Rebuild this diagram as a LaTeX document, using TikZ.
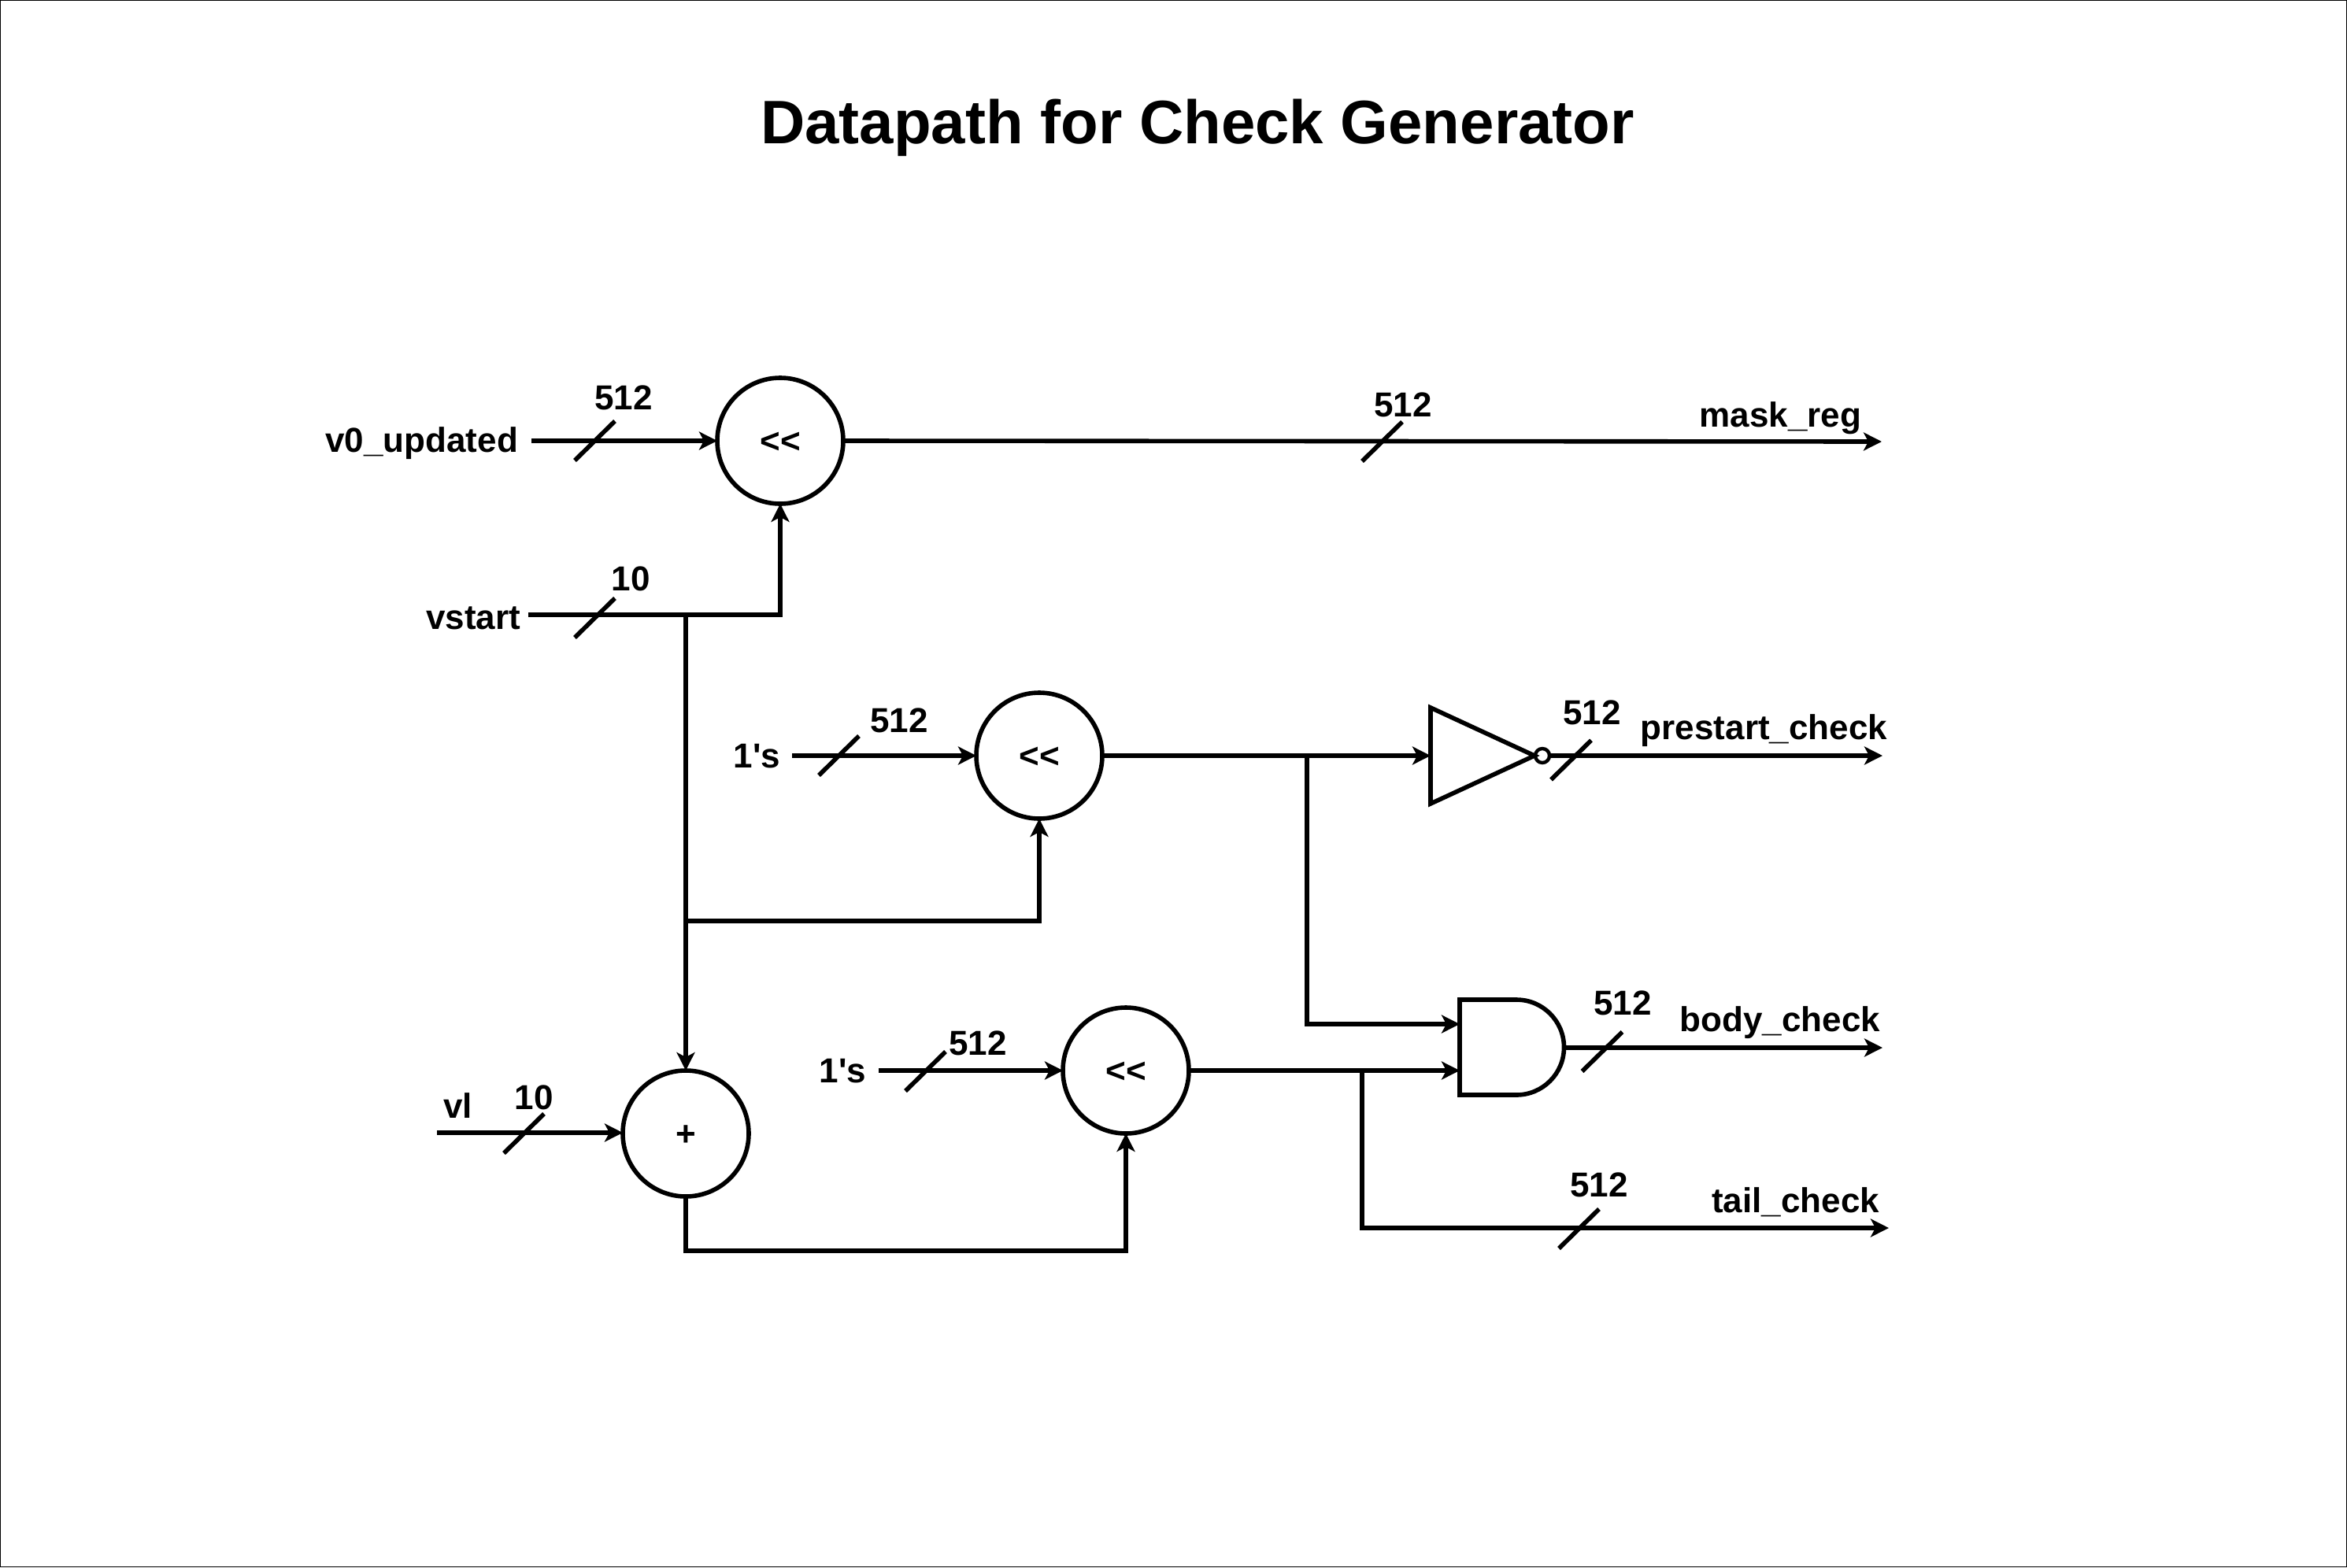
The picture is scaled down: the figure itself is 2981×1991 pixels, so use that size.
\documentclass[tikz,border=0pt]{standalone}
\usepackage{fontspec}
\setmainfont{Liberation Sans}
\usetikzlibrary{arrows.meta,calc}
\newcommand{\opglyph}[1]{\raisebox{-7.8pt}[0pt][0pt]{#1}}
\tikzset{
  px/.style={x=0.5pt,y=-0.5pt},
  wire/.style={line width=2.8pt,line join=miter},
  arw/.style={wire,-{Stealth[length=11.5pt,width=11.5pt,inset=3pt]}},
  slash/.style={line width=2.8pt},
  op/.style={circle,draw,line width=2.8pt,minimum size=80pt,inner sep=0pt,outer sep=0pt,font=\fontsize{22}{26}\selectfont\bfseries},
  lbl/.style={anchor=base,inner sep=0pt,outer sep=0pt,font=\fontsize{22}{26}\selectfont\bfseries},
  titlelbl/.style={anchor=base,inner sep=0pt,outer sep=0pt,font=\fontsize{39}{46}\selectfont\bfseries},
  gate/.style={line width=2.8pt,line join=miter},
  dot/.style={circle,draw,line width=2.2pt,minimum size=9pt,inner sep=0pt,outer sep=0pt},
}
\begin{document}
\begin{tikzpicture}[px]
\useasboundingbox (0,0) rectangle (2981,1991);
\draw[line width=0.6pt,black] (0.6,0.6) rectangle (2980.4,1990.4);
\node[titlelbl] (title) at (1521,183) {Datapath for Check Generator};
% operators
\node[op] (A) at (991,560) {\opglyph{<{}<}};
\node[op] (B) at (1320,960) {\opglyph{<{}<}};
\node[op] (C) at (1430,1360) {\opglyph{<{}<}};
\node[op] (D) at (871,1440) {\opglyph{+}};
% gates
\coordinate (invtop) at (1817,899);
\coordinate (invbot) at (1817,1021);
\coordinate (invtip) at (1949,960);
\coordinate (invin) at (1817,960);
\draw[gate] (invtop) -- (invtip) -- (invbot) -- cycle;
\node[dot] (bub) at (1959,960) {};
\coordinate (andtl) at (1854,1270);
\coordinate (andbl) at (1854,1391);
\coordinate (andin1) at (1854,1301);
\coordinate (andin2) at (1854,1360);
\coordinate (andout) at (1987,1331);
\draw[gate] (andtl) -- (1926,1270) arc[start angle=-90,end angle=90,radius=60.5] -- (andbl) -- cycle;
% signal labels
\node[lbl,anchor=base east] (v0) at (658,574) {v0\_updated};
\node[lbl,anchor=base east] (vstart) at (661,799) {vstart};
\node[lbl,anchor=base east] (onesB) at (991,975) {1\textquotesingle s};
\node[lbl,anchor=base east] (onesC) at (1100,1375) {1\textquotesingle s};
\node[lbl,anchor=base west] (vl) at (563,1420) {vl};
\node[lbl,anchor=base east] (mask) at (2364,542) {mask\_reg};
\node[lbl,anchor=base east] (pre) at (2397,939) {prestart\_check};
\node[lbl,anchor=base east] (body) at (2388,1310) {body\_check};
\node[lbl,anchor=base east] (tail) at (2387,1540) {tail\_check};
% width labels
\node[lbl] (w1) at (792,520) {512};
\node[lbl] (w2) at (801,750) {10};
\node[lbl] (w3) at (1782,529) {512};
\node[lbl] (w4) at (1142,930) {512};
\node[lbl] (w5) at (2022,920) {512};
\node[lbl] (w6) at (1242,1340) {512};
\node[lbl] (w7) at (678,1409) {10};
\node[lbl] (w8) at (2061,1289) {512};
\node[lbl] (w9) at (2031,1520) {512};
% free ends and bends
\coordinate (v0s) at (675,560);
\coordinate (vsts) at (671,781);
\coordinate (vstj) at (871,781);
\coordinate (bs) at (1006,960);
\coordinate (cs) at (1116,1360);
\coordinate (vls) at (555,1439);
\coordinate (vbr) at (871,1170);
\coordinate (bj) at (1660,960);
\coordinate (cj) at (1730,1360);
\coordinate (mend) at (2390,561);
\coordinate (pend) at (2391,960);
\coordinate (bend) at (2391,1331);
\coordinate (tend) at (2399,1560);
% connectors
\draw[arw] (v0s) -- (A.west);
\draw[arw] (vsts) -- (vstj) -| (A.south);
\draw[arw] (vstj) -- (D.north);
\draw[arw] (vbr) -| (B.south);
\draw[arw] (bs) -- (B.west);
\draw[arw] (cs) -- (C.west);
\draw[arw] (vls) -- (vls -| D.west);
\draw[arw] (D.south) |- ($(C.south)+(0,149)$) -- (C.south);
\draw[arw] (A.east) -- (mend);
\draw[arw] (B.east) -- (invin);
\draw[arw] (bj) |- (andin1);
\draw[arw] (C.east) -- (andin2);
\draw[arw] (cj) |- (tend);
\draw[arw] (bub.east) -- (pend);
\draw[arw] (andout) -- (bend);
% width slashes
\foreach \x/\y/\n in {755.5/560/a,755.5/785/b,1755.5/561/c,1065.5/960/d,1995.5/965.5/e,1175.5/1361/f,665.5/1440/g,2035/1336/h,2005.5/1561/i}{
  \coordinate (s\n1) at ({\x-25.5},{\y+25});
  \coordinate (s\n2) at ({\x+25.5},{\y-25});
  \draw[slash] (s\n1) -- (s\n2);
}
\end{tikzpicture}
\end{document}
